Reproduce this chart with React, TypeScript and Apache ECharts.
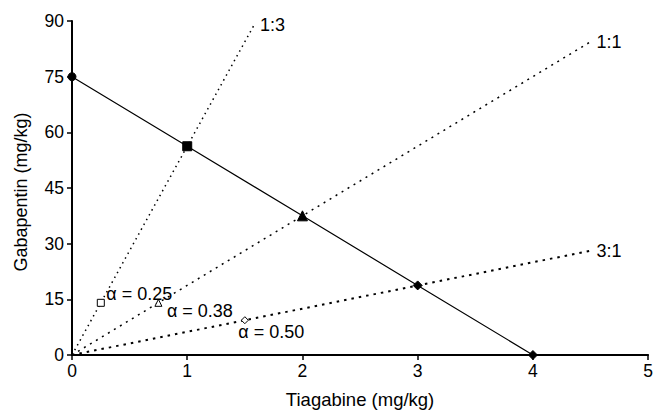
import React, { useEffect, useRef } from "react";
import * as echarts from "echarts";

const xTicks = [0, 1, 2, 3, 4, 5];
const yTicks = [0, 15, 30, 45, 60, 75, 90];
const isobole: [number, number][] = [[0, 75], [1, 56.25], [2, 37.5], [3, 18.75], [4, 0]];
const isoboleSymbols = ["circle", "rect", "triangle", "diamond", "diamond"];
const isoboleSizes = [8, 9, 10, 9, 9];
const line13: [number, number][] = [[0, 0], [1.58, 88.9]];
const line11: [number, number][] = [[0, 0], [4.5, 84.4]];
const line31: [number, number][] = [[0, 0], [4.5, 28.1]];
const expPoints: [number, number][] = [[0.25, 14.06], [0.75, 14.06], [1.5, 9.375]];
const expLabels = ["α = 0.25", "α = 0.38", "α = 0.50"];
const expSymbols = ["rect", "triangle", "diamond"];

const FONT = "Liberation Sans, Arial, sans-serif";
const FS = 17.5;

export default function App() {
  const ref = useRef<HTMLDivElement>(null);
  useEffect(() => {
    document.body.style.margin = "0";
    const chart = echarts.init(ref.current!, null, { renderer: "svg" });
    const ratioLine = (data: [number, number][], name: string, dash: number[], width: number) => ({
      type: "line",
      data,
      symbol: "none",
      lineStyle: { color: "#000", width, type: dash },
      endLabel: { show: true, formatter: name, color: "#000", fontFamily: FONT, fontSize: 18, distance: 6 },
      z: 2,
    });
    const labelOffsets = [[-3.5, -9], [-0.5, 8], [-15.5, 11.5]];
    chart.setOption({
      animation: false,
      grid: { left: 72, right: 7, top: 21, bottom: 53 },
      xAxis: {
        type: "value",
        min: 0,
        max: 5,
        interval: 1,
        name: "Tiagabine (mg/kg)",
        nameLocation: "middle",
        nameGap: 35,
        nameTextStyle: { color: "#000", fontFamily: FONT, fontSize: 18.5 },
        axisLine: { show: true, lineStyle: { color: "#000", width: 2 } },
        axisTick: { show: true, length: 5, lineStyle: { color: "#000", width: 1.5 } },
        axisLabel: { color: "#000", fontFamily: FONT, fontSize: FS, margin: 7, formatter: (v: number) => (xTicks.includes(v) ? String(v) : "") },
        splitLine: { show: false },
      },
      yAxis: {
        type: "value",
        min: 0,
        max: 90,
        interval: 15,
        name: "Gabapentin (mg/kg)",
        nameLocation: "middle",
        nameGap: 42,
        nameTextStyle: { color: "#000", fontFamily: FONT, fontSize: 18, padding: [0, 8, 0, 0] },
        axisLine: { show: true, lineStyle: { color: "#000", width: 2 } },
        axisTick: { show: true, length: 5, lineStyle: { color: "#000", width: 1.5 } },
        axisLabel: { color: "#000", fontFamily: FONT, fontSize: FS, margin: 8, formatter: (v: number) => (yTicks.includes(v) ? String(v) : "") },
        splitLine: { show: false },
      },
      series: [
        ratioLine(line13, "1:3", [1.5, 4], 1.5),
        ratioLine(line11, "1:1", [2, 5], 1.5),
        ratioLine(line31, "3:1", [2.5, 5], 2),
        {
          type: "line",
          data: isobole.map((p, i) => ({ value: p, symbol: isoboleSymbols[i], symbolSize: isoboleSizes[i] })),
          lineStyle: { color: "#000", width: 1.2 },
          itemStyle: { color: "#000", borderColor: "#000" },
          showAllSymbol: true,
          z: 3,
        },
        {
          type: "scatter",
          data: expPoints.map((p, i) => ({
            value: p,
            symbol: expSymbols[i],
            label: {
              show: true,
              formatter: expLabels[i],
              color: "#000",
              fontFamily: FONT,
              fontSize: 18,
              position: "right",
              distance: 5,
              offset: labelOffsets[i],
            },
          })),
          symbolSize: 7,
          itemStyle: { color: "#fff", borderColor: "#000", borderWidth: 1, opacity: 1 },
          z: 4,
        },
      ],
    });
    return () => chart.dispose();
  }, []);
  return <div ref={ref} style={{ width: 656, height: 414 }} />;
}
